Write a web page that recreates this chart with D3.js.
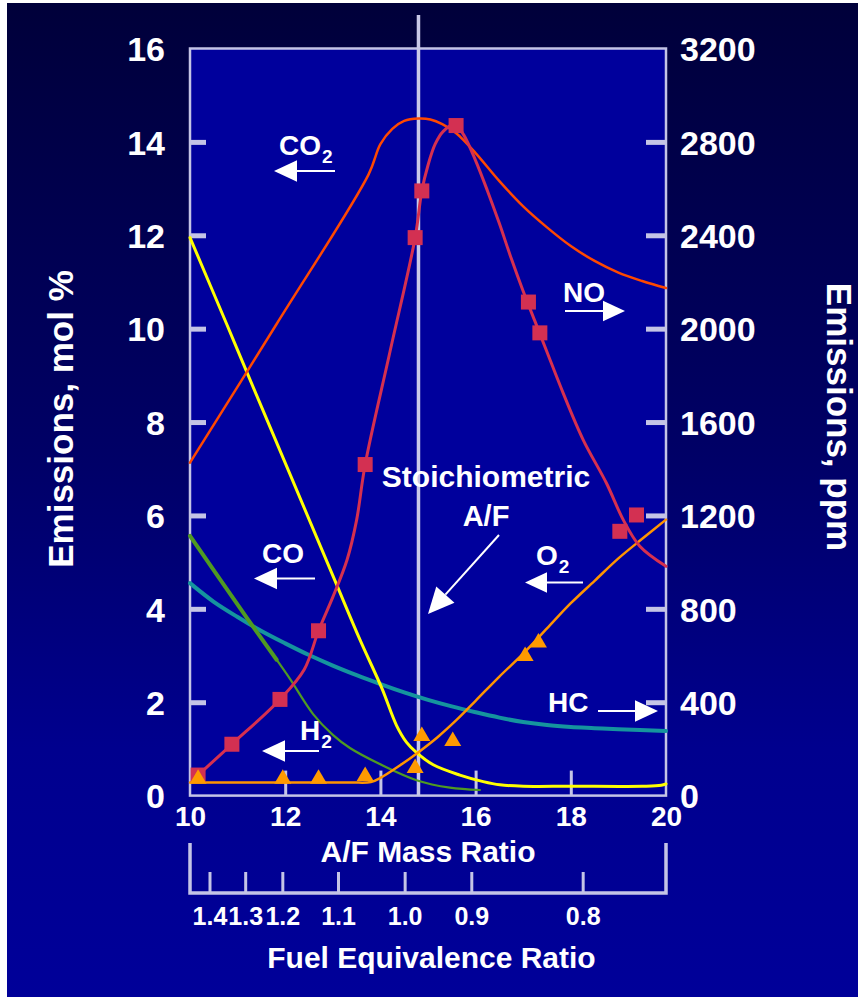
<!DOCTYPE html>
<html>
<head>
<meta charset="utf-8">
<script src="https://cdn.jsdelivr.net/npm/d3@7"></script>
<style>
  html, body { margin: 0; padding: 0; background: #ffffff; }
  svg { display: block; }
  text { font-family: "Liberation Sans", Arial, sans-serif; font-weight: bold; fill: #ffffff; }
</style>
</head>
<body>
<svg id="chart" width="858" height="997"></svg>
<script>
// ---- axis values ----
const afTicks = [10, 12, 14, 16, 18, 20];
const molTicks = [0, 2, 4, 6, 8, 10, 12, 14, 16];
const ppmTicks = [0, 400, 800, 1200, 1600, 2000, 2400, 2800, 3200];
const phiLabels = ["1.4", "1.3", "1.2", "1.1", "1.0", "0.9", "0.8"];
const phiAtAF = [10.42, 11.17, 11.95, 13.12, 14.52, 15.92, 18.26];
const stoichAF = 14.8;

// ---- emissions vs A/F mass ratio ----
// CO2, mol % (left axis)
const co2Curve = [[10, 7.13], [11.82, 10.1], [13.75, 13.3], [14.0, 13.95], [14.25, 14.28], [14.5, 14.45],
  [14.8, 14.5], [15.05, 14.48], [15.3, 14.38], [15.6, 14.18], [16.0, 13.76], [16.5, 13.16], [17.0, 12.62],
  [17.5, 12.17], [18.0, 11.77], [18.5, 11.45], [19.0, 11.2], [19.5, 11.02], [20, 10.87]];
// CO, mol % (left axis)
const coCurve = [[10, 11.95], [10.77, 10.1], [11.19, 9.08], [13.01, 4.69], [13.57, 3.34], [14.03, 2.3],
  [14.34, 1.5], [14.55, 1.14], [14.76, 0.92], [15.11, 0.66], [15.67, 0.44], [16.16, 0.3], [16.51, 0.23],
  [17, 0.2], [18, 0.2], [19.5, 0.2], [19.9, 0.22], [20, 0.25]];
// H2, mol % (left axis)
const h2Curve = [[10, 5.56], [11.22, 3.77], [11.82, 2.91], [12.1, 2.5], [12.59, 1.74], [13.0, 1.3],
  [13.36, 1.02], [14.06, 0.64], [14.76, 0.33], [15.46, 0.17], [16.09, 0.12]];
// O2, mol % (left axis)
const o2Curve = [[10, 0.28], [11.0, 0.28], [12.0, 0.28], [12.7, 0.28], [13.4, 0.28], [13.8, 0.29],
  [14.0, 0.38], [14.4, 0.64], [14.8, 0.93], [15.2, 1.25], [15.6, 1.62], [16.0, 2.03], [16.5, 2.55],
  [17.0, 3.04], [17.5, 3.58], [18.0, 4.12], [18.5, 4.6], [19.0, 5.08], [19.5, 5.5], [20, 5.91]];
const o2Measured = [[10.17, 0.38], [11.95, 0.38], [12.7, 0.38], [13.68, 0.44], [14.73, 0.61],
  [14.87, 1.3], [15.52, 1.19], [17.04, 3.01], [17.32, 3.3]];
// NO, ppm (right axis)
const noCurve = [[10.17, 88], [10.88, 220], [11.89, 412], [12.4, 540], [12.7, 706], [13.0, 850],
  [13.3, 1010], [13.5, 1180], [13.68, 1418], [14.2, 1900], [14.73, 2390], [14.87, 2590], [15.0, 2700],
  [15.15, 2790], [15.32, 2845], [15.57, 2876], [15.75, 2830], [16.0, 2720], [16.25, 2590], [16.5, 2450],
  [16.75, 2300], [17.0, 2160], [17.25, 2030], [17.5, 1900], [17.84, 1724], [18.26, 1524], [18.75, 1338],
  [19.1, 1182], [19.45, 1068], [20, 982]];
const noMeasured = [[10.17, 88], [10.88, 220], [11.89, 412], [12.7, 706], [13.68, 1418], [14.73, 2390],
  [14.87, 2590], [15.59, 2870], [17.11, 2114], [17.35, 1982], [19.03, 1132], [19.38, 1202]];
// HC, ppm (right axis)
const hcCurve = [[10, 910], [10.5, 830], [11, 765], [11.5, 705], [12, 652], [12.5, 602], [13, 557],
  [13.5, 516], [14, 478], [14.5, 442], [15, 410], [15.5, 382], [16, 357], [16.5, 334], [17, 315],
  [17.5, 302], [18, 294], [18.5, 289], [19, 284], [20, 277]];

// ---- layout ----
const W = 858, H = 997;
const plot = { left: 190, right: 666, top: 48.5, bottom: 795.6 };

const svg = d3.select("#chart");
const defs = svg.append("defs");
const grad = defs.append("linearGradient").attr("id", "bg").attr("x1", 0).attr("y1", 0).attr("x2", 0).attr("y2", 1);
grad.append("stop").attr("offset", "0%").attr("stop-color", "#00003a");
grad.append("stop").attr("offset", "45%").attr("stop-color", "#000066");
grad.append("stop").attr("offset", "75%").attr("stop-color", "#00008e");
grad.append("stop").attr("offset", "100%").attr("stop-color", "#000099");

svg.append("rect").attr("width", W).attr("height", H).attr("fill", "#ffffff");
svg.append("rect").attr("x", 7).attr("y", 3).attr("width", W - 7).attr("height", H - 3).attr("fill", "url(#bg)");
svg.append("rect")
  .attr("x", plot.left).attr("y", plot.top)
  .attr("width", plot.right - plot.left).attr("height", plot.bottom - plot.top)
  .attr("fill", "#00009c");

const x = d3.scaleLinear().domain([10, 20]).range([plot.left, plot.right]);
const yMol = d3.scaleLinear().domain([0, 16]).range([plot.bottom, plot.top]);
const yPpm = d3.scaleLinear().domain([0, 3200]).range([plot.bottom, plot.top]);

const axisColor = "#c4c4e6";

// left axis
const gL = svg.append("g").attr("transform", `translate(${plot.left},0)`)
  .call(d3.axisLeft(yMol).tickValues(molTicks).tickSize(-16).tickPadding(25).tickFormat(d3.format("d")));
// right axis
const gR = svg.append("g").attr("transform", `translate(${plot.right},0)`)
  .call(d3.axisRight(yPpm).tickValues(ppmTicks).tickSize(-20).tickPadding(14).tickFormat(d3.format("d")));
// bottom axis
const gB = svg.append("g").attr("transform", `translate(0,${plot.bottom})`)
  .call(d3.axisBottom(x).tickValues(afTicks).tickSize(-25).tickPadding(11).tickFormat(d3.format("d")));

[gL, gR, gB].forEach(g => {
  g.select(".domain").remove();
  g.selectAll(".tick line").attr("stroke", axisColor);
  g.selectAll(".tick text").attr("fill", "#ffffff").attr("font-family", "Liberation Sans, Arial, sans-serif")
    .attr("font-weight", "bold");
});
gL.selectAll(".tick line").attr("stroke-width", 5).filter(d => d === 0 || d === 16).remove();
gR.selectAll(".tick line").attr("stroke-width", 5).filter(d => d === 0 || d === 3200).remove();
gB.selectAll(".tick line").attr("stroke-width", 3).filter(d => d === 10 || d === 20).remove();
gL.selectAll(".tick text").attr("font-size", 34).attr("dy", "0.36em");
gR.selectAll(".tick text").attr("font-size", 34).attr("dy", "0.36em");
gB.selectAll(".tick text").attr("font-size", 28);

// plot frame
svg.append("rect")
  .attr("x", plot.left).attr("y", plot.top)
  .attr("width", plot.right - plot.left).attr("height", plot.bottom - plot.top)
  .attr("fill", "none").attr("stroke", axisColor).attr("stroke-width", 2.5);

// stoichiometric A/F marker line
svg.append("line")
  .attr("x1", x(stoichAF)).attr("x2", x(stoichAF))
  .attr("y1", 15).attr("y2", plot.bottom)
  .attr("stroke", "#c8c8e8").attr("stroke-width", 3.5);

// curves
const smooth = d3.curveCatmullRom.alpha(0.5);
const lineMol = d3.line().x(d => x(d[0])).y(d => yMol(d[1])).curve(smooth);
const linePpm = d3.line().x(d => x(d[0])).y(d => yPpm(d[1])).curve(smooth);

const curves = svg.append("g").attr("fill", "none").attr("stroke-linejoin", "round").attr("stroke-linecap", "round");
curves.append("path").datum(hcCurve).attr("d", linePpm).attr("stroke", "#15949e").attr("stroke-width", 4);
curves.append("path").datum(h2Curve).attr("d", lineMol).attr("stroke", "#4f9a22").attr("stroke-width", 2.2);
// the rich end of the H2 trace is drawn heavier
curves.append("path").datum(h2Curve.filter(d => d[0] <= 11.82)).attr("d", lineMol)
  .attr("stroke", "#4f9a22").attr("stroke-width", 4);
curves.append("path").datum(coCurve).attr("d", lineMol).attr("stroke", "#ffff00").attr("stroke-width", 3);
curves.append("path").datum(co2Curve).attr("d", lineMol).attr("stroke", "#ff4800").attr("stroke-width", 2.5);
curves.append("path").datum(o2Curve).attr("d", lineMol).attr("stroke", "#ff9400").attr("stroke-width", 2.5);
curves.append("path").datum(noCurve).attr("d", linePpm).attr("stroke", "#d6304f").attr("stroke-width", 3);

// measured points
svg.append("g").selectAll("rect").data(noMeasured).join("rect")
  .attr("x", d => x(d[0]) - 7.5).attr("y", d => yPpm(d[1]) - 7.5)
  .attr("width", 15).attr("height", 15).attr("fill", "#d33052");
svg.append("g").selectAll("path").data(o2Measured).join("path")
  .attr("transform", d => `translate(${x(d[0])},${yMol(d[1])})`)
  .attr("d", "M0,-8.5L8.5,6L-8.5,6Z").attr("fill", "#ff9a00");

// species labels with arrows
const ann = svg.append("g");
function arrow(x1, y1, x2, y2, head) {
  const ang = Math.atan2(y2 - y1, x2 - x1);
  const bx = x2 - head * Math.cos(ang), by = y2 - head * Math.sin(ang);
  const hw = head * 0.47;
  ann.append("line").attr("x1", x1).attr("y1", y1).attr("x2", bx).attr("y2", by)
    .attr("stroke", "#ffffff").attr("stroke-width", 2);
  const px = -Math.sin(ang) * hw, py = Math.cos(ang) * hw;
  ann.append("path").attr("fill", "#ffffff")
    .attr("d", `M${x2},${y2}L${bx + px},${by + py}L${bx - px},${by - py}Z`);
}
function species(tx, ty, main, sub) {
  const t = ann.append("text").attr("x", tx).attr("y", ty).attr("font-size", 28).text(main);
  if (sub) t.append("tspan").attr("font-size", 19).attr("dy", 8).attr("dx", 1).text(sub);
}
species(279, 155, "CO", "2");
arrow(335, 171, 274, 171, 23);
species(563, 301.7, "NO");
arrow(565, 311, 625, 311, 22);
species(262, 563.3, "CO");
arrow(315, 578.5, 254, 578.5, 23);
species(536, 565, "O", "2");
arrow(583, 582.5, 525, 582.5, 22);
species(300, 740, "H", "2");
arrow(319, 751, 262, 751, 23);
species(548, 711.7, "HC");
arrow(598, 711, 658, 711, 23);

ann.append("text").attr("x", 486).attr("y", 486.7).attr("text-anchor", "middle").attr("font-size", 30).text("Stoichiometric");
ann.append("text").attr("x", 486).attr("y", 526).attr("text-anchor", "middle").attr("font-size", 29).text("A/F");
arrow(499, 535, 428, 614, 26);

// axis titles
svg.append("text").attr("transform", "translate(73,419) rotate(-90)").attr("text-anchor", "middle")
  .attr("font-size", 35).text("Emissions, mol %");
svg.append("text").attr("transform", "translate(827,417) rotate(90)").attr("text-anchor", "middle")
  .attr("font-size", 35).text("Emissions, ppm");
svg.append("text").attr("x", 428).attr("y", 861.7).attr("text-anchor", "middle").attr("font-size", 30).text("A/F Mass Ratio");
svg.append("text").attr("x", 431.5).attr("y", 968).attr("text-anchor", "middle").attr("font-size", 30).text("Fuel Equivalence Ratio");

// fuel equivalence ratio scale, aligned to A/F
const phiG = svg.append("g");
const phiBase = 893, phiTop = 843, phiTick = 21;
phiG.append("path")
  .attr("d", `M${x(10)},${phiTop}V${phiBase}H${x(20)}V${phiTop}`)
  .attr("fill", "none").attr("stroke", axisColor).attr("stroke-width", 3.5);
phiG.selectAll("line").data(phiAtAF).join("line")
  .attr("x1", d => x(d)).attr("x2", d => x(d))
  .attr("y1", phiBase).attr("y2", phiBase - phiTick)
  .attr("stroke", axisColor).attr("stroke-width", 3);
phiG.selectAll("text").data(phiLabels).join("text")
  .attr("x", (d, i) => x(phiAtAF[i])).attr("y", 925)
  .attr("text-anchor", "middle").attr("font-size", 25).text(d => d);
</script>
</body>
</html>
